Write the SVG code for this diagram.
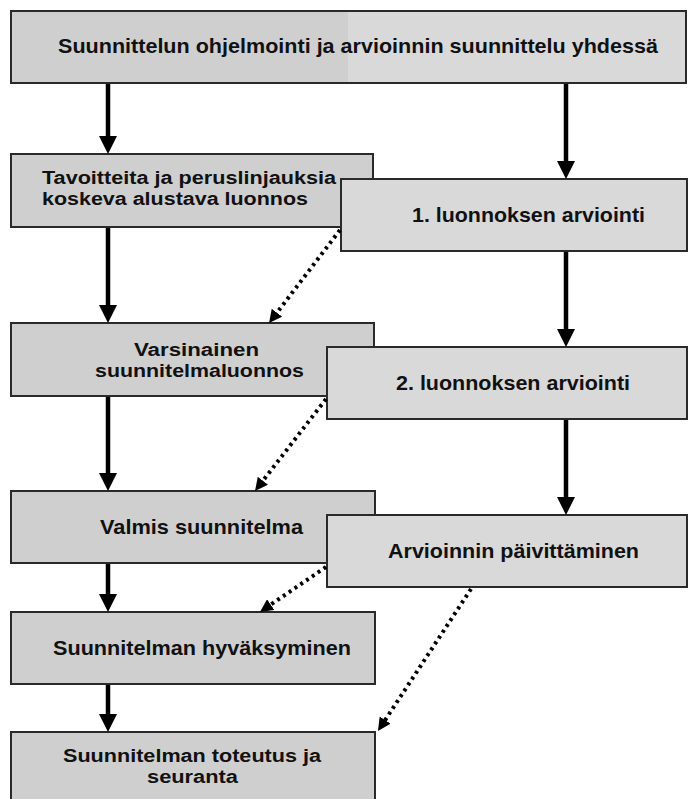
<svg xmlns="http://www.w3.org/2000/svg" width="690" height="799" viewBox="0 0 690 799">
<defs>
<style>
.bl{fill:#cfcfcf;stroke:#2a2a2a;stroke-width:2}
.br{fill:#d9d9d9;stroke:#2a2a2a;stroke-width:2}
.t{font-family:"Liberation Sans",Arial,sans-serif;font-weight:bold;font-size:21px;fill:#111}
.t2{font-family:"Liberation Sans",Arial,sans-serif;font-weight:bold;font-size:18px;fill:#111}
.solid{stroke:#000;stroke-width:4.5;fill:none;marker-end:url(#ah)}
.dot{stroke:#000;stroke-width:4;stroke-dasharray:3 4;fill:none;marker-end:url(#dh)}
</style>
<marker id="ah" markerUnits="userSpaceOnUse" markerWidth="18" markerHeight="18" viewBox="0 0 18 18" refX="4" refY="9" orient="auto">
<path d="M0,0 L18,9 L0,18 z" fill="#000"/>
</marker>
<marker id="dh" markerUnits="userSpaceOnUse" markerWidth="13" markerHeight="13" viewBox="0 0 13 13" refX="4" refY="6.5" orient="auto">
<path d="M0,0 L13,6.5 L0,13 z" fill="#000"/>
</marker>
</defs>
<rect width="690" height="799" fill="#fff"/>

<g id="top">
<rect x="11" y="11" width="675" height="72" fill="#d9d9d9" stroke="none"/>
<rect x="11" y="11" width="337" height="72" fill="#cfcfcf" stroke="none"/>
<rect x="11" y="11" width="675" height="72" fill="none" stroke="#2a2a2a" stroke-width="2"/>
<text class="t" x="58" y="53" textLength="600" lengthAdjust="spacingAndGlyphs">Suunnittelun ohjelmointi ja arvioinnin suunnittelu yhdessä</text>
</g>

<g id="tavoitteita">
<rect class="bl" x="11" y="154" width="362" height="73"/>
<text class="t2" x="42" y="184" textLength="294" lengthAdjust="spacingAndGlyphs">Tavoitteita ja peruslinjauksia</text>
<text class="t2" x="42" y="205" textLength="266" lengthAdjust="spacingAndGlyphs">koskeva alustava luonnos</text>
</g>

<g id="varsinainen">
<rect class="bl" x="11" y="323" width="363" height="73"/>
<text class="t2" x="134" y="356" textLength="125" lengthAdjust="spacingAndGlyphs">Varsinainen</text>
<text class="t2" x="95" y="377" textLength="209" lengthAdjust="spacingAndGlyphs">suunnitelmaluonnos</text>
</g>

<g id="valmis">
<rect class="bl" x="11" y="491" width="364" height="72"/>
<text class="t" x="100" y="534" textLength="203" lengthAdjust="spacingAndGlyphs">Valmis suunnitelma</text>
</g>

<g id="hyvaksyminen">
<rect class="bl" x="11" y="612" width="364" height="72"/>
<text class="t" x="53" y="655" textLength="298" lengthAdjust="spacingAndGlyphs">Suunnitelman hyväksyminen</text>
</g>

<g id="toteutus">
<rect class="bl" x="11" y="732" width="364" height="80"/>
<text class="t2" x="63" y="762" textLength="258" lengthAdjust="spacingAndGlyphs">Suunnitelman toteutus ja</text>
<text class="t2" x="147" y="783" textLength="91" lengthAdjust="spacingAndGlyphs">seuranta</text>
</g>

<g id="arviointi1">
<rect class="br" x="341" y="179" width="346" height="72"/>
<text class="t" x="412" y="222" textLength="233" lengthAdjust="spacingAndGlyphs">1. luonnoksen arviointi</text>
</g>

<g id="arviointi2">
<rect class="br" x="327" y="347" width="360" height="72"/>
<text class="t" x="396" y="390" textLength="234" lengthAdjust="spacingAndGlyphs">2. luonnoksen arviointi</text>
</g>

<g id="paivittaminen">
<rect class="br" x="327" y="515" width="360" height="72"/>
<text class="t" x="388" y="558" textLength="251" lengthAdjust="spacingAndGlyphs">Arvioinnin päivittäminen</text>
</g>

<g id="connectors">
<line class="solid" x1="108" y1="84" x2="108" y2="140"/>
<line class="solid" x1="566" y1="84" x2="566" y2="165"/>
<line class="solid" x1="108" y1="228" x2="108" y2="309"/>
<line class="solid" x1="566" y1="252" x2="566" y2="333"/>
<line class="solid" x1="108" y1="397" x2="108" y2="477"/>
<line class="solid" x1="566" y1="420" x2="566" y2="501"/>
<line class="solid" x1="108" y1="564" x2="108" y2="598"/>
<line class="solid" x1="108" y1="685" x2="108" y2="718"/>
<line class="dot" x1="340" y1="230" x2="274.5" y2="315.9"/>
<line class="dot" x1="326" y1="399" x2="260.5" y2="483.9"/>
<line class="dot" x1="326" y1="567" x2="267.4" y2="606.9"/>
<line class="dot" x1="471" y1="589" x2="382.9" y2="723.5"/>
</g>
</svg>
